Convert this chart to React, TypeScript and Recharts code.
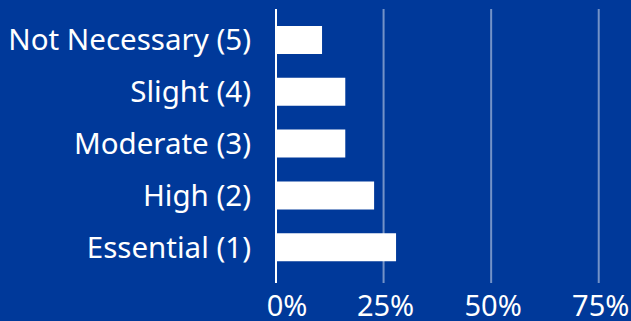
import React from "react";
import { BarChart, Bar, XAxis, YAxis, CartesianGrid } from "recharts";

// Rating categories, top to bottom
const categories = [
  "Not Necessary (5)",
  "Slight (4)",
  "Moderate (3)",
  "High (2)",
  "Essential (1)",
];

// Share of responses per rating
const shares = [0.107, 0.161, 0.161, 0.228, 0.279];

const xTicks = [0, 0.25, 0.5, 0.75];

const data = categories.map((name, i) => ({ name, share: shares[i] }));

const BG = "#00399a";
const FONT = "'Noto Sans', sans-serif";

const PercentTick = (props: any) => {
  const { x, y, payload } = props;
  // the zero label sits a little right of its tick
  const shift = payload.value === 0 ? 11 : 2;
  return (
    <text
      x={x + shift}
      y={y}
      dy="0.71em"
      textAnchor="middle"
      fill="#ffffff"
      fontSize={29}
      fontFamily={FONT}
    >
      {Math.round(payload.value * 100)}%
    </text>
  );
};

const App = () => {
  return (
    <div style={{ position: "fixed", left: 0, top: 0, width: 631, height: 321, background: BG }}>
      <BarChart
        width={631}
        height={321}
        data={data}
        layout="vertical"
        margin={{ top: 9, right: 0, left: 0, bottom: 0 }}
        style={{ background: BG }}
      >
        <CartesianGrid
          horizontal={false}
          verticalValues={xTicks}
          stroke="#ffffff"
          strokeOpacity={0.45}
          strokeWidth={2}
        />
        <XAxis
          type="number"
          domain={[0, 0.825]}
          ticks={xTicks}
          allowDataOverflow
          axisLine={false}
          tickLine={false}
          tickMargin={6}
          height={38}
          tick={<PercentTick />}
        />
        <YAxis
          type="category"
          dataKey="name"
          width={276}
          padding={{ top: 5, bottom: 10 }}
          axisLine={{ stroke: "#ffffff", strokeWidth: 2 }}
          tickLine={false}
          tickMargin={19}
          tick={{ fill: "#ffffff", fontSize: 29.5, fontFamily: FONT }}
        />
        <Bar dataKey="share" fill="#ffffff" barSize={28} isAnimationActive={false} />
      </BarChart>
    </div>
  );
};

export default App;
